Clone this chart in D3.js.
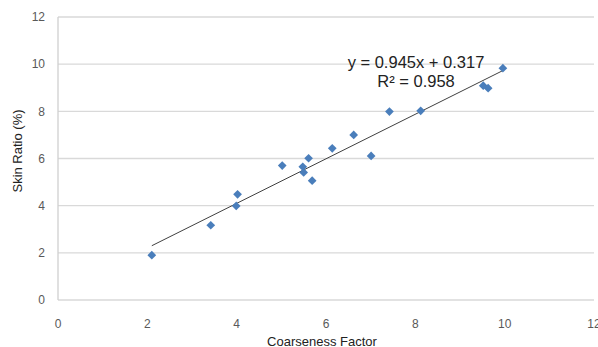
<!DOCTYPE html>
<html>
<head>
<meta charset="utf-8">
<script src="https://cdn.jsdelivr.net/npm/d3@7"></script>
<style>
  body { margin: 0; background: #fff; }
  text { font-family: "Liberation Sans", Arial, sans-serif; }
</style>
</head>
<body>
<div id="chart"></div>
<script>
// coarseness factor vs skin ratio (%)
const coarseness = [2.10, 3.42, 3.99, 4.02, 5.02, 5.48, 5.50, 5.61, 5.69, 6.14, 6.62, 7.01, 7.42, 8.12, 9.52, 9.63, 9.96];
const skinRatio  = [1.90, 3.17, 3.99, 4.48, 5.70, 5.65, 5.41, 6.01, 5.06, 6.43, 7.00, 6.11, 7.99, 8.02, 9.09, 8.98, 9.83];
const xTicks = [0, 2, 4, 6, 8, 10, 12];
const yTicks = [0, 2, 4, 6, 8, 10, 12];
const slope = 0.945, intercept = 0.317, r2 = 0.958;
const trendRange = [2.1, 9.96];

const width = 598, height = 347;
const margin = { top: 17, right: 4, bottom: 47, left: 58 };

const svg = d3.select("#chart").append("svg")
  .attr("width", width)
  .attr("height", height);

const x = d3.scaleLinear().domain([0, 12]).range([margin.left, width - margin.right]);
const y = d3.scaleLinear().domain([0, 12]).range([height - margin.bottom, margin.top]);

// gridlines
svg.append("g")
  .selectAll("line")
  .data(yTicks)
  .join("line")
  .attr("x1", margin.left)
  .attr("x2", width - margin.right)
  .attr("y1", d => y(d))
  .attr("y2", d => y(d))
  .attr("stroke", "#d9d9d9")
  .attr("stroke-width", 1.3);

// left axis line
svg.append("line")
  .attr("x1", margin.left).attr("x2", margin.left)
  .attr("y1", y(12)).attr("y2", y(0))
  .attr("stroke", "#d0d0d0")
  .attr("stroke-width", 1.3);

// y tick labels
svg.append("g")
  .selectAll("text")
  .data(yTicks)
  .join("text")
  .attr("x", margin.left - 13)
  .attr("y", d => y(d))
  .attr("dy", "0.35em")
  .attr("text-anchor", "end")
  .attr("fill", "#595959")
  .style("font-size", "12px")
  .text(d => d);

// x tick labels (last one is clipped by the frame as in the original)
svg.append("g")
  .selectAll("text")
  .data(xTicks)
  .join("text")
  .attr("x", d => x(d))
  .attr("y", y(0) + 24)
  .attr("dy", "0.35em")
  .attr("text-anchor", "middle")
  .attr("fill", "#595959")
  .style("font-size", "12px")
  .text(d => d);

// axis titles
svg.append("text")
  .attr("x", 322)
  .attr("y", 341)
  .attr("dy", "0.35em")
  .attr("text-anchor", "middle")
  .attr("fill", "#222")
  .style("font-size", "13px")
  .text("Coarseness Factor");

svg.append("text")
  .attr("transform", "translate(17,151) rotate(-90)")
  .attr("dy", "0.35em")
  .attr("text-anchor", "middle")
  .attr("fill", "#222")
  .style("font-size", "13px")
  .text("Skin Ratio (%)");

// trendline
svg.append("line")
  .attr("x1", x(trendRange[0]))
  .attr("y1", y(slope * trendRange[0] + intercept))
  .attr("x2", x(trendRange[1]))
  .attr("y2", y(slope * trendRange[1] + intercept))
  .attr("stroke", "#404040")
  .attr("stroke-width", 1);

// points
const diamond = d3.symbol().type(d3.symbolSquare).size(38);
svg.append("g")
  .selectAll("path")
  .data(coarseness.map((c, i) => [c, skinRatio[i]]))
  .join("path")
  .attr("d", diamond)
  .attr("transform", d => `translate(${x(d[0])},${y(d[1])}) rotate(45)`)
  .attr("fill", "#4a7ebb");

// equation
svg.append("text")
  .attr("x", 416)
  .attr("y", 62)
  .attr("dy", "0.35em")
  .attr("text-anchor", "middle")
  .attr("fill", "#222")
  .style("font-size", "16.5px")
  .text(`y = ${slope}x + ${intercept}`);

svg.append("text")
  .attr("x", 416)
  .attr("y", 81)
  .attr("dy", "0.35em")
  .attr("text-anchor", "middle")
  .attr("fill", "#222")
  .style("font-size", "16.5px")
  .text(`R² = ${r2}`);
</script>
</body>
</html>
